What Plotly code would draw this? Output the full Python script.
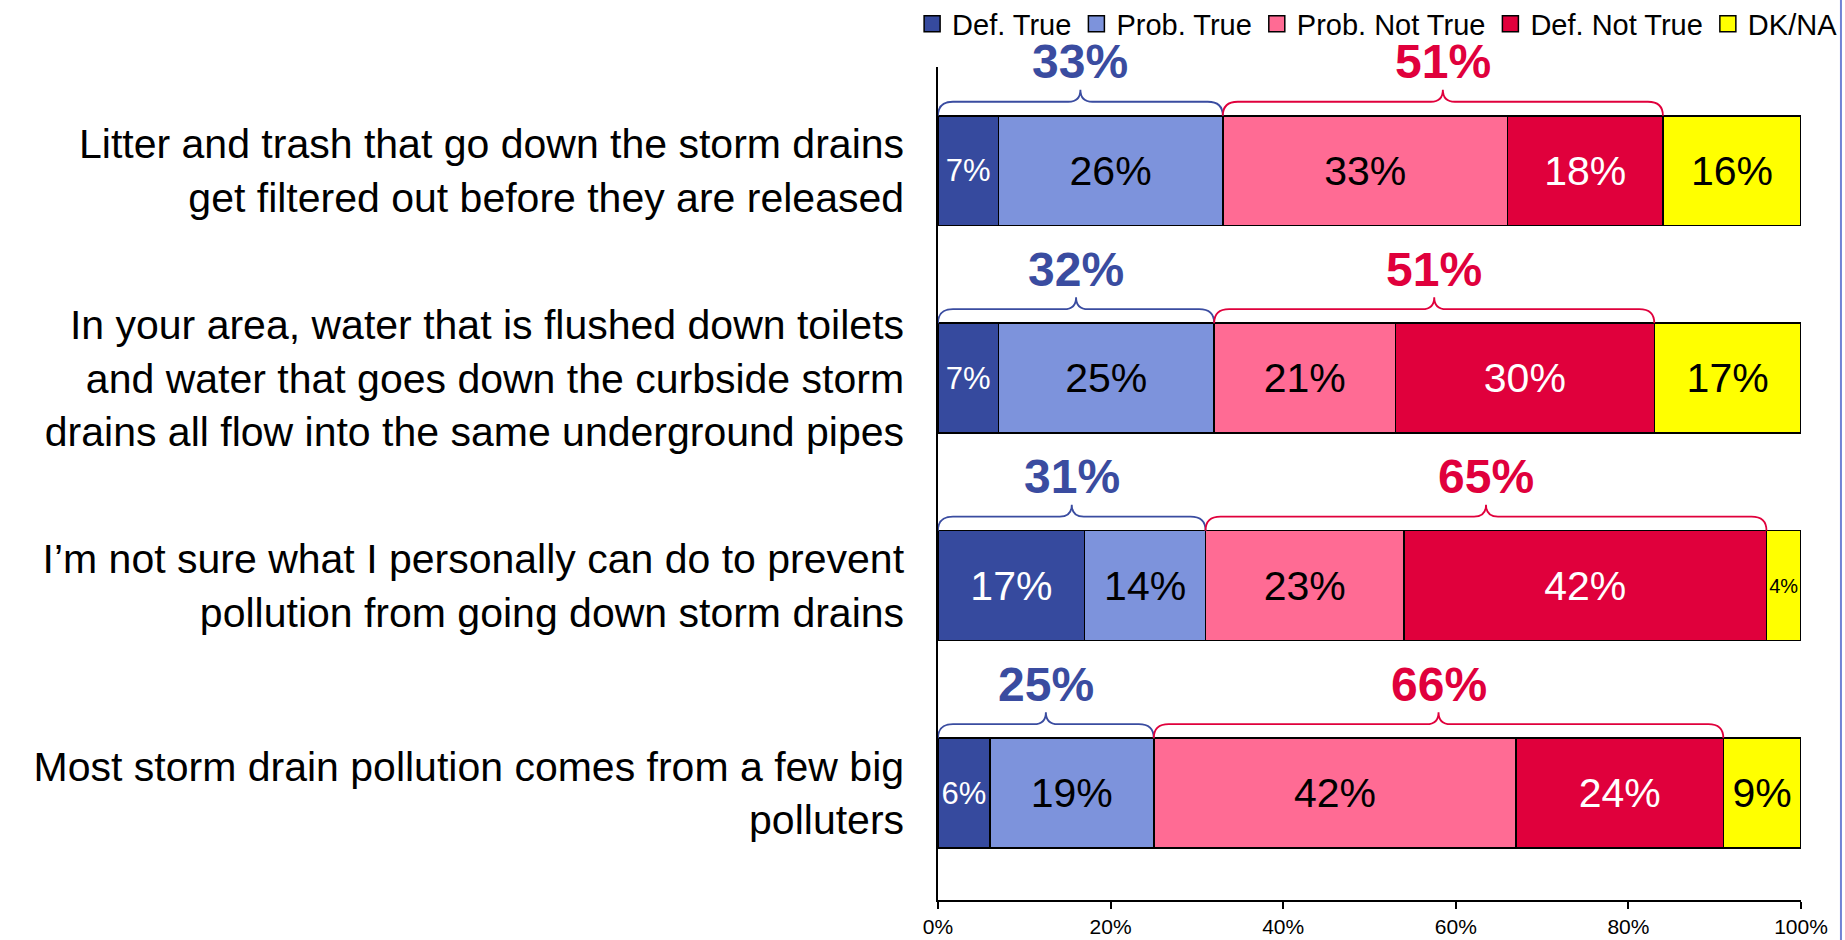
import plotly.graph_objects as go

# ---------------- data ----------------
statements = [
    "Litter and trash that go down the storm drains<br>get filtered out before they are released",
    "In your area, water that is flushed down toilets<br>and water that goes down the curbside storm<br>drains all flow into the same underground pipes",
    "I\u2019m not sure what I personally can do to prevent<br>pollution from going down storm drains",
    "Most storm drain pollution comes from a few big<br>polluters",
]
series_names = ["Def. True", "Prob. True", "Prob. Not True", "Def. Not True", "DK/NA"]
def_true = [7, 7, 17, 6]
prob_true = [26, 25, 14, 19]
prob_not_true = [33, 21, 23, 42]
def_not_true = [18, 30, 42, 24]
dk_na = [16, 17, 4, 9]
true_totals = [33, 32, 31, 25]
not_true_totals = [51, 51, 65, 66]
x_tick_values = [0, 20, 40, 60, 80, 100]
x_tick_labels = ["0%", "20%", "40%", "60%", "80%", "100%"]

# ---------------- style ----------------
FONT = "Liberation Sans, Arial, Helvetica, sans-serif"
colors = ["#364A9E", "#7D93DC", "#FF6B94", "#E0003C", "#FFFF00"]
text_colors = ["white", "black", "black", "white", "black"]
BLUE = "#3A4CA0"
RED = "#E0003C"
BAR_W = 0.53
Y_RANGE = [3.515, -0.5]

rows = list(range(len(statements)))
series = [def_true, prob_true, prob_not_true, def_not_true, dk_na]


def label_size(v):
    if v <= 5:
        return 20
    if v <= 7:
        return 31
    return 41


fig = go.Figure()
for name, vals, col, tcol in zip(series_names, series, colors, text_colors):
    fig.add_trace(go.Bar(
        name=name,
        y=rows,
        x=vals,
        orientation="h",
        width=BAR_W,
        marker=dict(color=col, line=dict(color="black", width=1.5)),
        text=[f"{v}%" for v in vals],
        textposition="inside",
        insidetextanchor="middle",
        textangle=0,
        constraintext="none",
        textfont=dict(family=FONT, color=tcol, size=[label_size(v) for v in vals]),
        hoverinfo="skip",
        showlegend=False,
    ))

# legend entries (square swatches with black outline)
for name, col in zip(series_names, colors):
    fig.add_trace(go.Scatter(
        x=[None], y=[None], mode="markers", name=name,
        marker=dict(symbol="square", size=16, color=col,
                    line=dict(color="black", width=1.5)),
        hoverinfo="skip",
    ))

# ---------------- braces ----------------
PX_Y = 207.3   # px per category unit
PX_X = 8.63    # px per percent
half = BAR_W / 2
rx = 15 / PX_X
rt = 12 / PX_X
dh = 14 / PX_Y
dt = 26 / PX_Y
dl = 54 / PX_Y


def to_paper(y):
    return (Y_RANGE[0] - y) / (Y_RANGE[0] - Y_RANGE[1])


def brace(x0, x1, ytop, color):
    xm = (x0 + x1) / 2
    yh = ytop - dh
    yt = ytop - dt
    p = (f"M {x0},{ytop} Q {x0},{yh} {x0 + rx},{yh} L {xm - rt},{yh} "
         f"Q {xm},{yh} {xm},{yt} Q {xm},{yh} {xm + rt},{yh} "
         f"L {x1 - rx},{yh} Q {x1},{yh} {x1},{ytop}")
    return dict(type="path", path=p, xref="x", yref="y",
                line=dict(color=color, width=1.8), layer="above")


shapes = []
annotations = []
for i in rows:
    ytop = i - half
    t_end = def_true[i] + prob_true[i]
    n_end = t_end + prob_not_true[i] + def_not_true[i]
    shapes.append(brace(0, t_end, ytop, BLUE))
    shapes.append(brace(t_end, n_end, ytop, RED))
    ly = to_paper(ytop - dl)
    annotations.append(dict(x=t_end / 2, y=ly, xref="x", yref="paper",
                            text=f"<b>{true_totals[i]}%</b>", showarrow=False,
                            font=dict(family=FONT, size=48, color=BLUE),
                            xanchor="center", yanchor="middle"))
    annotations.append(dict(x=(t_end + n_end) / 2, y=ly, xref="x", yref="paper",
                            text=f"<b>{not_true_totals[i]}%</b>", showarrow=False,
                            font=dict(family=FONT, size=48, color=RED),
                            xanchor="center", yanchor="middle"))

# slide border on right
shapes.append(dict(type="line", xref="paper", yref="paper",
                   x0=1.0463, x1=1.0463, y0=-0.06, y1=1.09,
                   line=dict(color="#7182D4", width=2)))

fig.update_layout(
    width=1845, height=940,
    barmode="stack",
    margin=dict(l=938, r=44, t=67, b=40, autoexpand=False),
    plot_bgcolor="white", paper_bgcolor="white",
    font=dict(family=FONT, color="black"),
    shapes=shapes,
    annotations=annotations,
    showlegend=True,
    legend=dict(orientation="h", xanchor="left", x=-0.030, yanchor="middle", y=1.0516,
                font=dict(family=FONT, size=29, color="black"),
                traceorder="normal", itemwidth=30, bgcolor="rgba(0,0,0,0)"),
    xaxis=dict(range=[0, 100], tickvals=x_tick_values, ticktext=x_tick_labels,
               showline=True, linecolor="black", linewidth=1.8,
               ticks="outside", ticklen=7, tickwidth=1.5, tickcolor="black",
               showgrid=False, zeroline=False, automargin=False,
               tickfont=dict(family=FONT, size=21, color="black")),
    yaxis=dict(range=Y_RANGE, tickvals=rows, ticktext=statements,
               showline=True, linecolor="black", linewidth=1.5,
               ticks="", showgrid=False, zeroline=False, ticklabelstandoff=24,
               automargin=False,
               tickfont=dict(family=FONT, size=41, color="black")),
)

fig.write_html(
    "out.html",
    config={"displayModeBar": False},
    post_script="document.body.style.margin='0';document.body.style.overflow='hidden';",
)
